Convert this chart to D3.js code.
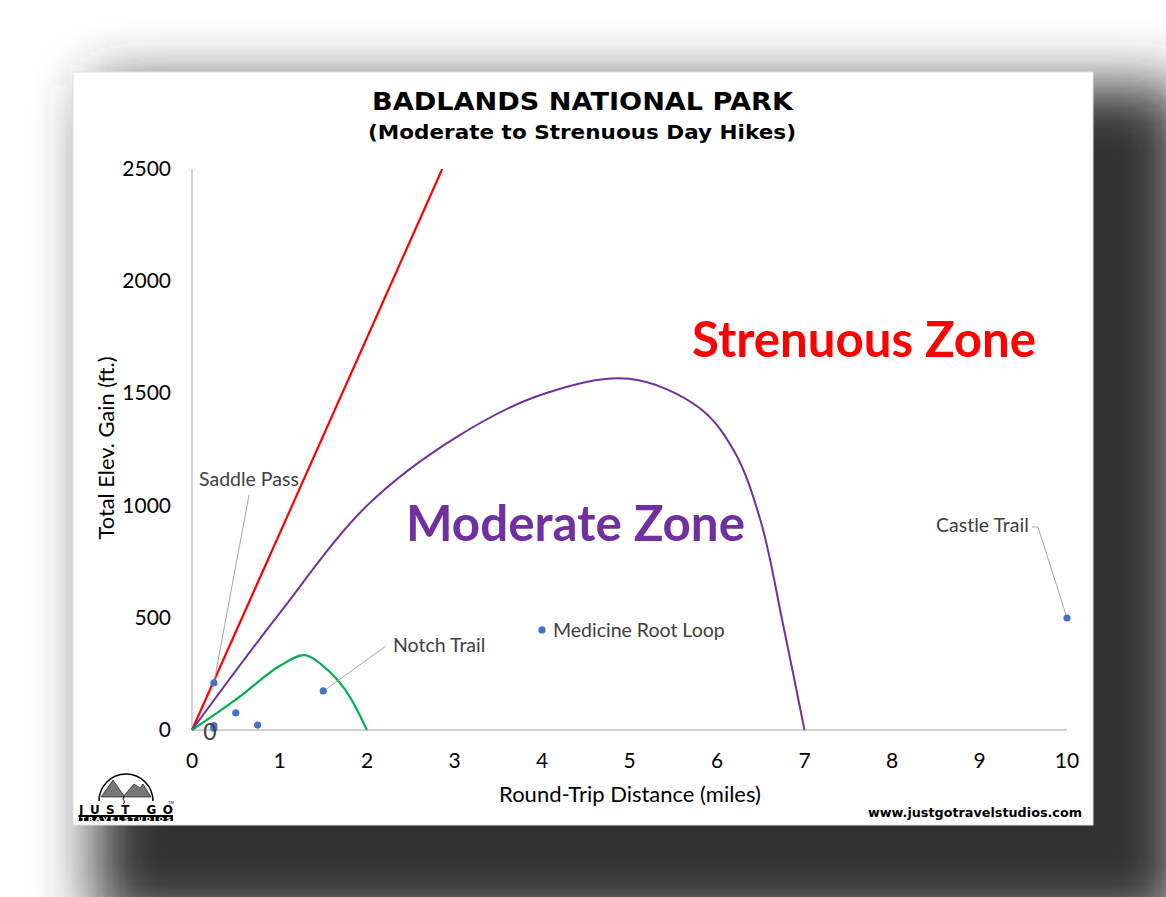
<!DOCTYPE html>
<html><head><meta charset="utf-8">
<script src="https://cdn.jsdelivr.net/npm/d3@7"></script>
<style>html,body{margin:0;padding:0;background:#fff;}svg{display:block;}</style>
</head><body>
<svg id="c" width="1166" height="897"></svg>
<script>
// ---- data ----
const xTicks = [0,1,2,3,4,5,6,7,8,9,10];
const yTicks = [0,500,1000,1500,2000,2500];
const hikeNames = ["Saddle Pass","","","","","Notch Trail","Medicine Root Loop","Castle Trail"];
const hikeMiles = [0.25,0.25,0.25,0.5,0.75,1.5,4,10];
const hikeGain  = [210,20,8,76,22,174,446,499];
const strenuousMiles = [0,2.86];
const strenuousGain  = [0,2500];
const moderateMiles = [0,1,2,3,4,5,5.8,6.2,6.5,6.75,7];
const moderateGain  = [0,520,1000,1300,1495,1565,1435,1240,930,480,0];
const easyMiles = [0,0.5,1,1.29,1.5,1.75,2];
const easyGain  = [0,135,285,334,285,180,0];

const svg = d3.select("#c");
const defs = svg.append("defs");
const f = defs.append("filter").attr("id","sh").attr("x","-50%").attr("y","-50%").attr("width","200%").attr("height","200%");
f.append("feGaussianBlur").attr("stdDeviation",30);

// shadow
svg.append("rect").attr("x",95).attr("y",85).attr("width",1090).attr("height",840)
  .attr("fill","#333").attr("filter","url(#sh)");
// panel
svg.append("rect").attr("x",73).attr("y",72).attr("width",1020).attr("height",753).attr("fill","#fff")
  .attr("stroke","#e0e0e0").attr("stroke-width",1);

const x = d3.scaleLinear().domain([0,10]).range([192,1067]);
const y = d3.scaleLinear().domain([0,2500]).range([730,169]);

// axes lines
svg.append("line").attr("x1",x(0)).attr("x2",x(0)).attr("y1",y(2500)).attr("y2",y(0)).attr("stroke","#bfbfbf").attr("stroke-width",1.3);
svg.append("line").attr("x1",x(0)).attr("x2",x(10)).attr("y1",y(0)).attr("y2",y(0)).attr("stroke","#bfbfbf").attr("stroke-width",1.3);

const lab = "Lato, 'Open Sans', sans-serif";
svg.append("g").selectAll("text").data(xTicks).join("text")
  .attr("x",d=>x(d)).attr("y",768).attr("text-anchor","middle")
  .attr("font-family",lab).attr("font-size",21).attr("fill","#000").text(d=>d);
svg.append("g").selectAll("text").data(yTicks).join("text")
  .attr("x",171).attr("y",d=>y(d)+7).attr("text-anchor","end")
  .attr("font-family",lab).attr("font-size",21).attr("fill","#000").text(d=>d);

// clip
defs.append("clipPath").attr("id","plot").append("rect").attr("x",150).attr("y",y(2500)).attr("width",950).attr("height",y(0)-y(2500)+2);
const g = svg.append("g").attr("clip-path","url(#plot)");

const lineGen = d3.line().x(d=>x(d[0])).y(d=>y(d[1]));
const smooth = d3.line().x(d=>x(d[0])).y(d=>y(d[1])).curve(d3.curveCatmullRom.alpha(0.5));

g.append("path").attr("d",lineGen(d3.zip(strenuousMiles,strenuousGain))).attr("fill","none").attr("stroke","#ff0000").attr("stroke-width",2.2);
g.append("path").attr("d",smooth(d3.zip(moderateMiles,moderateGain))).attr("fill","none").attr("stroke","#7030a0").attr("stroke-width",2);
g.append("path").attr("d",smooth(d3.zip(easyMiles,easyGain))).attr("fill","none").attr("stroke","#00b050").attr("stroke-width",2.2);

// leader lines
const lc = "#a6a6a6";
svg.append("line").attr("x1",249).attr("y1",495).attr("x2",x(0.25)).attr("y2",y(210)).attr("stroke",lc);
svg.append("line").attr("x1",386).attr("y1",646).attr("x2",x(1.5)+3).attr("y2",y(174)-2).attr("stroke",lc);
svg.append("polyline").attr("points",[[1032,527],[1038,527],[x(10),y(499)]].map(p=>p.join(",")).join(" ")).attr("fill","none").attr("stroke",lc);

// points
svg.append("g").selectAll("circle").data(d3.range(hikeMiles.length)).join("circle")
  .attr("cx",i=>x(hikeMiles[i])).attr("cy",i=>y(hikeGain[i])).attr("r",3.6).attr("fill","#4472c4");

// data labels
const dl = [[199,486,0],[393,652,5],[553,637,6],[936,532,7]];
svg.append("g").selectAll("text").data(dl).join("text")
  .attr("x",d=>d[0]).attr("y",d=>d[1]).attr("font-family",lab).attr("font-size",19.5).attr("fill","#404040")
  .text(d=>hikeNames[d[2]]);
svg.append("text").attr("x",210).attr("y",740).attr("text-anchor","middle").attr("font-family",lab).attr("font-size",23).attr("fill","#404040").text("0");

// zone labels
svg.append("text").attr("x",692).attr("y",357).attr("font-family",lab).attr("font-weight",700).attr("font-size",50)
  .attr("fill","#ff0000").attr("textLength",344).attr("lengthAdjust","spacingAndGlyphs").text("Strenuous Zone");
svg.append("text").attr("x",406).attr("y",541).attr("font-family",lab).attr("font-weight",700).attr("font-size",50)
  .attr("fill","#7030a0").attr("textLength",339).attr("lengthAdjust","spacingAndGlyphs").text("Moderate Zone");

// titles
svg.append("text").attr("x",372).attr("y",110).attr("font-family","'DejaVu Sans', Verdana, sans-serif").attr("font-weight",700).attr("font-size",25)
  .attr("textLength",421).attr("lengthAdjust","spacingAndGlyphs").text("BADLANDS NATIONAL PARK");
svg.append("text").attr("x",368).attr("y",139).attr("font-family","'DejaVu Sans', Verdana, sans-serif").attr("font-weight",700).attr("font-size",20)
  .attr("textLength",428).attr("lengthAdjust","spacingAndGlyphs").text("(Moderate to Strenuous Day Hikes)");

// axis titles
svg.append("text").attr("x",630).attr("y",802).attr("text-anchor","middle").attr("font-family",lab).attr("font-size",22).text("Round-Trip Distance (miles)");
svg.append("text").attr("transform","translate(114,448) rotate(-90)").attr("text-anchor","middle").attr("font-family",lab).attr("font-size",21)
  .attr("textLength",183).attr("lengthAdjust","spacingAndGlyphs").text("Total Elev. Gain (ft.)");

// website
svg.append("text").attr("x",868).attr("y",817).attr("font-family","'DejaVu Sans', Verdana, sans-serif").attr("font-weight",700).attr("font-size",13)
  .attr("textLength",214).attr("lengthAdjust","spacingAndGlyphs").text("www.justgotravelstudios.com");

// logo
const lg = svg.append("g");
lg.append("path").attr("d","M99,801 A27,27 0 0 1 153,801").attr("fill","none").attr("stroke","#000").attr("stroke-width",1.5);
lg.append("path").attr("d","M101,797 L113,780 L120,790 L125,797 Z").attr("fill","#777").attr("stroke","#000").attr("stroke-width",0.6);
lg.append("path").attr("d","M123,797 L134,784 L140,788 L143,784 L151,797 Z").attr("fill","#777").attr("stroke","#000").attr("stroke-width",0.6);
lg.append("path").attr("d","M124,797 C121,800 127,801 123,804").attr("fill","none").attr("stroke","#000").attr("stroke-width",1);
lg.append("text").attr("x",79).attr("y",814).attr("font-family","'DejaVu Sans', sans-serif").attr("font-weight",700).attr("font-size",12)
  .attr("textLength",94).attr("lengthAdjust","spacing").text("JUST  GO");
lg.append("text").attr("x",168).attr("y",804).attr("font-family","sans-serif").attr("font-size",4).text("TM");
lg.append("rect").attr("x",79).attr("y",815).attr("width",94).attr("height",6).attr("fill","#000");
lg.append("text").attr("x",81).attr("y",820.5).attr("font-family","'DejaVu Sans', sans-serif").attr("font-weight",700).attr("font-size",5.5).attr("fill","#fff")
  .attr("textLength",90).attr("lengthAdjust","spacingAndGlyphs").text("T R A V E L   S T U D I O S");
</script>
</body></html>
